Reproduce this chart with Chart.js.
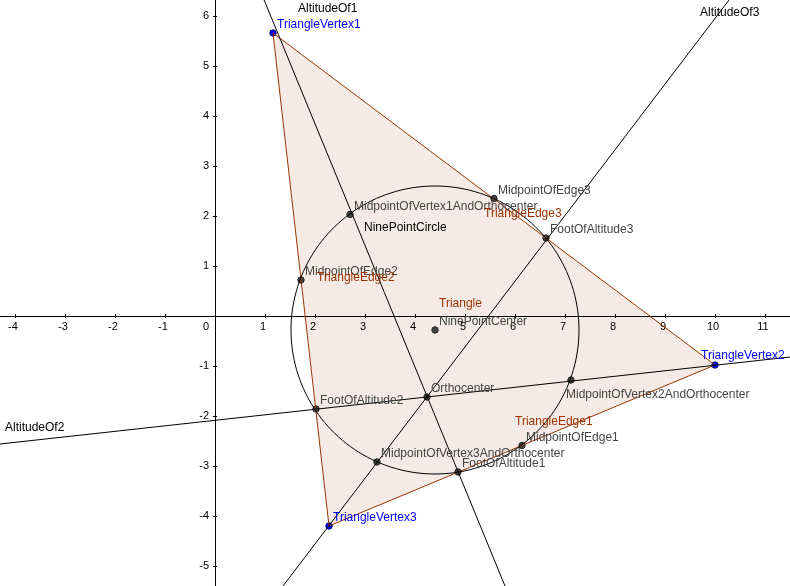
<!DOCTYPE html>
<html><head><meta charset="utf-8">
<script src="https://cdn.jsdelivr.net/npm/chart.js@4"></script>
<style>html,body{margin:0;padding:0;background:#fff}#w{width:790px;height:586px}</style>
</head><body><div id="w"><canvas id="c"></canvas></div>
<script>
const vertices=[{x:1.16,y:5.66,n:'TriangleVertex1'},{x:10,y:-0.98,n:'TriangleVertex2'},{x:2.28,y:-4.2,n:'TriangleVertex3'}];
const points=[
 {x:4.24,y:-1.62,n:'Orthocenter'},
 {x:4.86,y:-3.12,n:'FootOfAltitude1'},
 {x:2.02,y:-1.86,n:'FootOfAltitude2'},
 {x:6.62,y:1.56,n:'FootOfAltitude3'},
 {x:6.14,y:-2.59,n:'MidpointOfEdge1'},
 {x:1.72,y:0.72,n:'MidpointOfEdge2'},
 {x:5.58,y:2.35,n:'MidpointOfEdge3'},
 {x:2.7,y:2.03,n:'MidpointOfVertex1AndOrthocenter'},
 {x:7.12,y:-1.28,n:'MidpointOfVertex2AndOrthocenter'},
 {x:3.24,y:-2.92,n:'MidpointOfVertex3AndOrthocenter'},
 {x:4.4,y:-0.28,n:'NinePointCenter'}];
const circleCenter={x:4.4,y:-0.28}, circleRadius=2.88;
const altitude1=[{x:0.95,y:6.4},{x:5.8,y:-5.4}];
const altitude2=[{x:-4.3,y:-2.56},{x:11.5,y:-0.82}];
const altitude3=[{x:10.28,y:6.32},{x:1.36,y:-5.4}];
const freeLabels=[
 {x:1.66,y:6.08,t:'AltitudeOf1',c:'#000'},
 {x:9.7,y:6.0,t:'AltitudeOf3',c:'#000'},
 {x:-4.2,y:-2.3,t:'AltitudeOf2',c:'#000'},
 {x:2.98,y:1.7,t:'NinePointCircle',c:'#000'},
 {x:5.38,y:1.98,t:'TriangleEdge3',c:'#993300'},
 {x:2.04,y:0.7,t:'TriangleEdge2',c:'#993300'},
 {x:4.48,y:0.18,t:'Triangle',c:'#993300'},
 {x:6.0,y:-2.18,t:'TriangleEdge1',c:'#993300'}];
const xTicks=[-4,-3,-2,-1,0,1,2,3,4,5,6,7,8,9,10,11];
const yTicks=[-5,-4,-3,-2,-1,1,2,3,4,5,6];
const xMin=-4.3,xMax=11.5,yMin=-5.4,yMax=6.32;
const labelOffsets={TriangleVertex2:[-14,-6],MidpointOfVertex2AndOrthocenter:[-5,18]};

const circle=[];for(let i=0;i<=180;i++){const a=i/180*2*Math.PI;circle.push({x:circleCenter.x+circleRadius*Math.cos(a),y:circleCenter.y+circleRadius*Math.sin(a)});}
const edges=[...vertices,vertices[0]].map(p=>({x:p.x,y:p.y}));
const lineDs=(d,col)=>({data:d,showLine:true,borderColor:col,borderWidth:1,pointRadius:0,fill:false,tension:0,borderDash:[5000,1]});
const F='"Liberation Sans", Arial, sans-serif';
const plug={id:'g',
 beforeDatasetsDraw(ch){const x=ch.scales.x,y=ch.scales.y,c=ch.ctx;c.save();c.beginPath();
  vertices.forEach((p,i)=>{const px=x.getPixelForValue(p.x),py=y.getPixelForValue(p.y);i?c.lineTo(px,py):c.moveTo(px,py);});
  c.closePath();c.fillStyle='rgba(153,51,0,0.1)';c.fill();
  const ox=x.getPixelForValue(0),oy=y.getPixelForValue(0);
  c.strokeStyle='#000';c.lineWidth=1;c.beginPath();
  c.moveTo(x.left,Math.round(oy)+0.5);c.lineTo(x.right,Math.round(oy)+0.5);
  c.moveTo(Math.round(ox)+0.5,y.top);c.lineTo(Math.round(ox)+0.5,y.bottom);c.stroke();
  c.font='11px '+F;c.fillStyle='#000';
  xTicks.forEach(v=>{const px=x.getPixelForValue(v);c.beginPath();c.moveTo(Math.round(px)+0.5,oy-2);c.lineTo(Math.round(px)+0.5,oy+2);c.stroke();
    c.textAlign='center';c.textBaseline='top';c.fillText(String(v),v===0?px-9:px-2,oy+5);});
  yTicks.forEach(v=>{const py=y.getPixelForValue(v);c.beginPath();c.moveTo(ox-2,Math.round(py)+0.5);c.lineTo(ox+2,Math.round(py)+0.5);c.stroke();
    c.textAlign='right';c.textBaseline='middle';c.fillText(String(v),ox-6,py);});
  c.restore();},
 afterDatasetsDraw(ch){const x=ch.scales.x,y=ch.scales.y,c=ch.ctx;c.save();c.font='12px '+F;c.textBaseline='alphabetic';
  const lab=(p,col)=>{const o=labelOffsets[p.n]||[4,-5];c.fillStyle=col;c.fillText(p.n,x.getPixelForValue(p.x)+o[0],y.getPixelForValue(p.y)+o[1]);};
  points.forEach(p=>lab(p,'#444'));vertices.forEach(p=>lab(p,'#0000ff'));
  freeLabels.forEach(p=>{c.fillStyle=p.c;c.fillText(p.t,x.getPixelForValue(p.x),y.getPixelForValue(p.y));});
  c.restore();}};
new Chart(document.getElementById('c'),{type:'scatter',
 data:{datasets:[
  lineDs(altitude1,'#000'),lineDs(altitude2,'#000'),lineDs(altitude3,'#000'),
  lineDs(circle,'#000'),lineDs(edges,'#993300'),
  {data:points,pointRadius:3.2,pointBackgroundColor:'#444',pointBorderColor:'#222',borderWidth:1},
  {data:vertices,pointRadius:3.2,pointBackgroundColor:'#0000ff',pointBorderColor:'#00007a',borderWidth:1}]},
 options:{animation:false,responsive:true,maintainAspectRatio:false,layout:{padding:0,autoPadding:false},
  plugins:{legend:{display:false},tooltip:{enabled:false}},
  scales:{
   x:{type:'linear',display:false,min:xMin,max:xMax},
   y:{type:'linear',display:false,min:yMin,max:yMax}}}
 ,plugins:[plug]});
</script></body></html>
